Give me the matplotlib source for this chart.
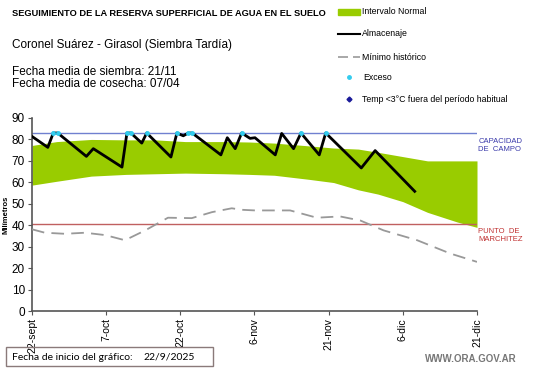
import matplotlib
matplotlib.use("Agg")
import matplotlib.pyplot as plt
from matplotlib.patches import Rectangle
from matplotlib.lines import Line2D

plt.rcParams['font.family'] = ['Liberation Sans', 'DejaVu Sans']

# days counted from 22-sept
tick_days = [0, 15, 30, 45, 60, 75, 90]
tick_labels = ['22-sept', '7-oct', '22-oct', '6-nov', '21-nov', '6-dic', '21-dic']

# Intervalo normal (green band)
band_days = [0, 5, 12, 19, 25, 31, 39, 44, 49, 56, 61, 66, 70, 75, 80, 86, 90]
band_upper = [77.2, 79, 80, 79.8, 79.8, 79, 79, 78.8, 78.3, 77, 76, 75.5, 74, 72, 70, 70, 70]
band_lower = [58.7, 60.5, 62.9, 63.7, 64, 64.3, 64, 63.7, 63.3, 61.4, 59.9, 56.5, 54.5, 51, 46, 41.5, 39]

# Almacenaje
alm_days = [0, 3.2, 4.3, 5.2, 11, 12.4, 18.2, 19.2, 20, 22.2, 23.2, 28.1, 29.3, 30.6,
            31.6, 32.4, 38.2, 39.5, 41.1, 42.4, 44.1, 45.1, 49.2, 50.5, 52.9, 54.4,
            58.1, 59.4, 66.6, 69.4, 77.4]
alm_vals = [81.4, 76.3, 83, 83, 72.1, 75.7, 67.1, 83, 83, 78.3, 83, 71.8, 83, 81.7,
            83, 83, 72.8, 80.8, 75.7, 83, 80.5, 80.8, 72.8, 82.8, 75.7, 83,
            72.8, 83, 66.7, 74.8, 55.8]

# Minimo historico
min_days = [0, 2.6, 6.7, 10.7, 14.8, 18.8, 22.9, 27.5, 32.3, 36.4, 40.4, 42.4, 45.1,
            52.2, 57.6, 62.3, 66.4, 71.1, 77.9, 84.6, 90]
min_vals = [38.1, 36.5, 36, 36.5, 35.4, 33, 37.6, 43.5, 43.3, 46.1, 47.9, 47.2, 46.9,
            46.9, 43.5, 44.1, 42.2, 37.6, 33, 26.8, 22.9]

# Exceso
exc_days = [4.3, 5.2, 19.2, 20, 23.2, 29.3, 31.6, 32.4, 42.4, 54.4, 59.4]
exc_vals = [83] * len(exc_days)

capacidad = 83
marchitez = 40.5

W, H = 541, 368
fig = plt.figure(figsize=(W / 100, H / 100), dpi=100)
ax = fig.add_axes([32 / W, 1 - 311 / H, (477 - 32) / W, (311 - 118) / H])

ax.fill_between(band_days, band_lower, band_upper, color='#99cc00', lw=0, zorder=1)
ax.axhline(capacidad, color='#7080d0', lw=1, zorder=2)
ax.axhline(marchitez, color='#c06060', lw=1, zorder=2)
ax.plot(min_days, min_vals, color='#999999', lw=1.3, dashes=(7, 4), zorder=3)
ax.plot(alm_days, alm_vals, color='black', lw=2, zorder=4)
ax.plot(exc_days, exc_vals, 'o', color='#33ccee', ms=2.5, zorder=5)

ax.set_xlim(0, 90)
ax.set_ylim(0, 90)
ax.set_xticks(tick_days)
ax.set_xticklabels(tick_labels, rotation=90, fontsize=7.5)
ax.set_yticks(range(0, 91, 10))
ax.tick_params(axis='y', labelsize=8.5, length=3, width=0.8, color='#555555', pad=2)
ax.tick_params(axis='x', length=3, width=0.8, color='#555555', pad=2)
for s in ['top', 'right']:
    ax.spines[s].set_visible(False)
for s in ['left', 'bottom']:
    ax.spines[s].set_color('#555555')
    ax.spines[s].set_linewidth(1.2)
ax.set_ylabel('Milímetros', fontsize=5.5, fontweight='bold', labelpad=2)

ax.text(1.003, 83 - 6, 'CAPACIDAD\nDE  CAMPO', transform=ax.get_yaxis_transform(),
        color='#3a3aaa', fontsize=5.5, va='center', ha='left', linespacing=1.2)
ax.text(1.003, marchitez - 5.5, 'PUNTO  DE\nMARCHITEZ', transform=ax.get_yaxis_transform(),
        color='#c03030', fontsize=5.5, va='center', ha='left', linespacing=1.2)


def fx(x):
    return x / W


def fy(y):
    return 1 - y / H


fig.text(fx(12), fy(14), 'SEGUIMIENTO DE LA RESERVA SUPERFICIAL DE AGUA EN EL SUELO',
         fontsize=6.7, fontweight='bold', va='center')
fig.text(fx(12), fy(45), 'Coronel Suárez - Girasol (Siembra Tardía)', fontsize=8.5, va='center')
fig.text(fx(12), fy(72), 'Fecha media de siembra: 21/11', fontsize=8.5, va='center')
fig.text(fx(12), fy(84), 'Fecha media de cosecha: 07/04', fontsize=8.5, va='center')

# legend drawn by hand
fig.patches.append(Rectangle((fx(338), fy(15)), fx(22), 6 / H, color='#99cc00',
                             transform=fig.transFigure))
fig.lines.append(Line2D([fx(338), fx(360)], [fy(34), fy(34)], color='black', lw=1.5,
                        transform=fig.transFigure))
fig.lines.append(Line2D([fx(338), fx(360)], [fy(57), fy(57)], color='#999999', lw=1.2,
                        dashes=(6, 3), transform=fig.transFigure))
fig.lines.append(Line2D([fx(349)], [fy(77)], marker='o', ms=2.5, color='#33ccee',
                        transform=fig.transFigure))
fig.lines.append(Line2D([fx(349)], [fy(99)], marker='D', ms=2.5, color='#1a1a99',
                        transform=fig.transFigure))
leg_fs = 6.3
fig.text(fx(362), fy(12), 'Intervalo Normal', fontsize=leg_fs, va='center')
fig.text(fx(362), fy(34), 'Almacenaje', fontsize=leg_fs, va='center')
fig.text(fx(362), fy(57), 'Mínimo histórico', fontsize=leg_fs, va='center')
fig.text(fx(363), fy(77), 'Exceso', fontsize=leg_fs, va='center')
fig.text(fx(362), fy(99), 'Temp <3°C fuera del período habitual', fontsize=leg_fs, va='center')

box_font = ['Lato', 'DejaVu Sans']
fig.patches.append(Rectangle((fx(6), fy(366)), fx(207), 19 / H, fill=False,
                             edgecolor='#8a7a7a', lw=1, transform=fig.transFigure))
fig.text(fx(12), fy(357), 'Fecha de inicio del gráfico:', fontsize=7.5, va='center',
         family=box_font)
fig.text(fx(143), fy(357), '22/9/2025', fontsize=7.5, va='center', family=box_font)
fig.text(fx(517), fy(359), 'WWW.ORA.GOV.AR', fontsize=7, fontweight='bold', color='#777777',
         ha='right', va='center')

fig.savefig('out.png', dpi=100)
